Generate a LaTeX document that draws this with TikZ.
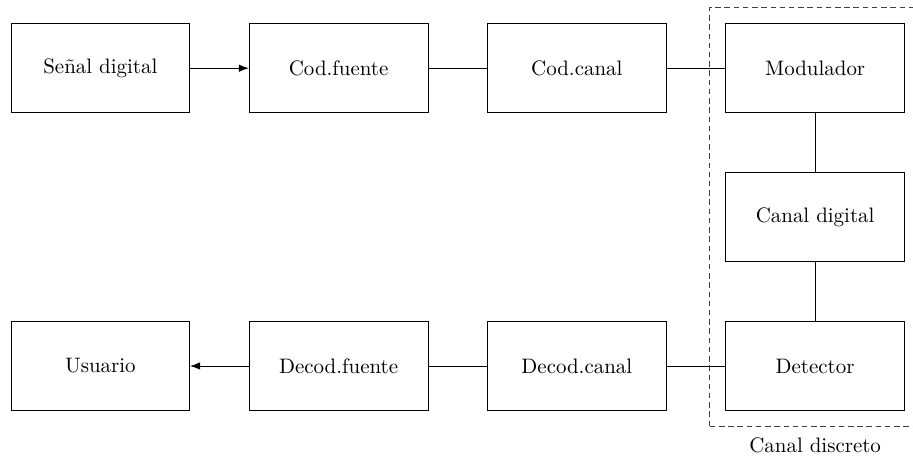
\documentclass[tikz,border=0pt]{standalone}
\usetikzlibrary{arrows.meta,positioning,fit}

\begin{document}
\begin{tikzpicture}[
        bloque/.style={draw, minimum width=3cm, minimum height=1.5cm},
        node distance=0.985cm
    ]
            \useasboundingbox (-1.684,1.145) rectangle (13.64,-6.57);

            \node[bloque] (senal) at (0,0) {Señal digital};
            \node[bloque, right=of senal] (codf) {Cod.fuente};
            \node[bloque, right=of codf] (codc) {Cod.canal};
            \node[bloque, right=of codc] (mod) {Modulador};
            \node[bloque, below=of mod] (canal) {Canal digital};
            \node[bloque, below=of canal] (det) {Detector};
            \node[bloque, left=of det] (decc) {Decod.canal};
            \node[bloque, left=of decc] (decf) {Decod.fuente};
            \node[bloque, left=of decf] (usuario) {Usuario};

            \node[draw=black!75, dash pattern=on 2.6pt off 1.8pt, inner sep=0.26cm,
                  fit=(mod) (det)] (discreto) {};
            \node[below=0.05cm of discreto] (etiq) {Canal discreto};

            \draw[-{Latex}] (senal)--(codf);
            \draw (codf)--(codc);
            \draw (codc)--(mod);
            \draw (mod)--(canal)--(det);
            \draw (det)--(decc);
            \draw (decc)--(decf);
            \draw[-{Latex}] (decf)--(usuario);
        \end{tikzpicture}
\end{document}
